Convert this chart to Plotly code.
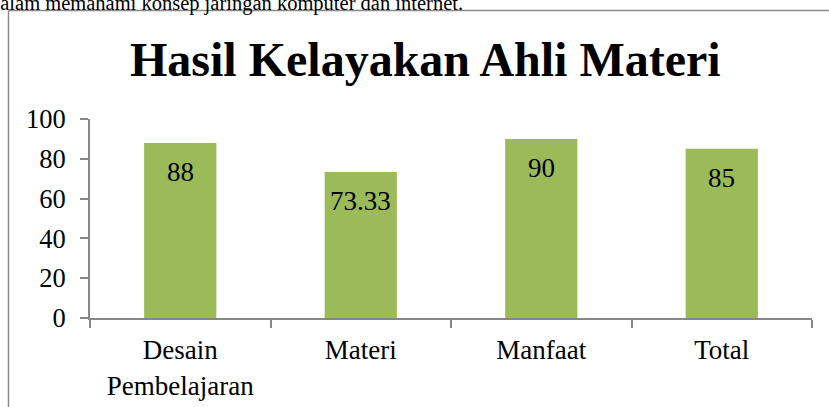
import plotly.graph_objects as go

categories = ["Desain<br>Pembelajaran", "Materi", "Manfaat", "Total"]
values = [88, 73.33, 90, 85]
value_labels = ["88", "73.33", "90", "85"]
y_ticks = [0, 20, 40, 60, 80, 100]

W, H = 829, 407
L, T = 90, 119
B = H - 318
R = W - 812
pw, ph = W - L - R, H - T - B

def px_x(x):  # page pixel -> paper coordinate
    return (x - L) / pw

def px_y(y):
    return (H - B - y) / ph

serif = "Liberation Serif, Times New Roman, serif"
axis_col = "#878787"

fig = go.Figure()
fig.add_trace(go.Bar(
    x=categories, y=values, width=0.4,
    marker=dict(color="#9BBB59", line=dict(width=0)),
    hoverinfo="skip",
))

for c, v, t in zip(categories, values, value_labels):
    fig.add_annotation(x=c, y=v, text=t, showarrow=False, yanchor="middle",
                       yshift=-29, font=dict(family=serif, size=27, color="black"))

fig.add_annotation(xref="paper", yref="paper", x=px_x(425), y=px_y(59.5),
                   text="<b>Hasil Kelayakan Ahli Materi</b>", showarrow=False,
                   xanchor="center", yanchor="middle",
                   font=dict(family=serif, size=48, color="black"))

fig.add_annotation(xref="paper", yref="paper", x=px_x(465), y=px_y(17.5),
                   text="dalam memahami konsep jaringan komputer dan internet.",
                   showarrow=False, xanchor="right", yanchor="bottom",
                   font=dict(family=serif, size=20.5, color="black"))

# chart area border (left and top edges visible)
fig.add_shape(type="line", xref="paper", yref="paper",
              x0=px_x(8.5), x1=px_x(8.5), y0=px_y(10.5), y1=px_y(430),
              line=dict(color="#8a8a8a", width=1.5))
fig.add_shape(type="line", xref="paper", yref="paper",
              x0=px_x(8.5), x1=px_x(850), y0=px_y(10.5), y1=px_y(10.5),
              line=dict(color="#8a8a8a", width=1.5))

fig.update_layout(
    width=W, height=H,
    margin=dict(l=L, r=R, t=T, b=B, pad=0, autoexpand=False),
    paper_bgcolor="white", plot_bgcolor="white",
    showlegend=False,
    font=dict(family=serif, color="black"),
)
fig.update_xaxes(
    automargin=False,
    showline=True, linecolor=axis_col, linewidth=2,
    ticks="outside", ticklen=8, tickcolor=axis_col, tickwidth=1.5,
    tickson="boundaries", showgrid=False,
    tickfont=dict(family=serif, size=27, color="black"),
    ticklabelstandoff=7,
)
fig.update_yaxes(
    automargin=False,
    range=[0, 100], tickvals=y_ticks,
    showline=True, linecolor=axis_col, linewidth=2,
    ticks="outside", ticklen=8, tickcolor=axis_col, tickwidth=1.5,
    showgrid=False, zeroline=False,
    tickfont=dict(family=serif, size=26.5, color="black"),
    ticklabelstandoff=9,
)

fig.write_html("out.html", config={"displayModeBar": False},
               post_script="document.body.style.margin='0';")
